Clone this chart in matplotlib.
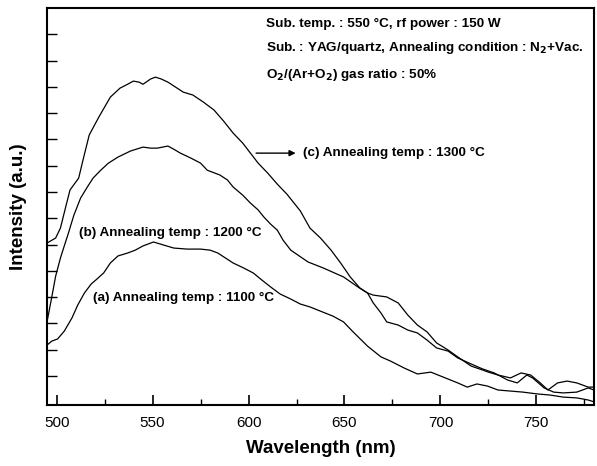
import numpy as np
import matplotlib
matplotlib.use("Agg")
import matplotlib.pyplot as plt

plt.rcParams['font.family'] = ['Liberation Sans', 'DejaVu Sans']

# (c) annealed at 1300 C
wl_c = [495, 499.5, 502, 505, 507, 511.5, 513.5, 517, 522, 528, 533, 537, 540, 543, 545,
        549, 551.5, 554.5, 558, 562, 566, 571, 576.5, 582, 587, 592, 597, 601, 605, 610,
        615, 620, 627, 632, 637.5, 643, 648, 653, 658, 662, 665, 669, 672, 678, 683, 688,
        693, 698, 704, 709, 716, 722, 728, 735, 740, 745, 748, 754, 759, 764, 771, 777, 780]
int_c = [6.06, 6.25, 6.63, 7.51, 8.08, 8.53, 9.14, 10.17, 10.85, 11.61, 11.95, 12.10, 12.22, 12.18, 12.10,
         12.30, 12.37, 12.30, 12.18, 11.99, 11.80, 11.69, 11.42, 11.12, 10.70, 10.24, 9.86, 9.48, 9.10, 8.72,
         8.30, 7.92, 7.28, 6.63, 6.25, 5.79, 5.30, 4.77, 4.35, 4.16, 3.78, 3.40, 3.06, 2.94, 2.75, 2.64,
         2.37, 2.07, 1.95, 1.69, 1.46, 1.27, 1.12, 0.85, 0.74, 1.04, 0.93, 0.55, 0.39, 0.36, 0.39, 0.55, 0.47]

# (b) annealed at 1200 C
wl_b = [495, 497.5, 499.5, 502, 504, 506, 509, 512.5, 516, 519, 523, 527, 532, 538.5, 545,
        549, 552.5, 558, 561, 564.5, 570, 575, 578.5, 585, 589, 592, 597, 601, 605, 608,
        611.5, 615, 618, 622, 631, 639, 649.5, 657, 662, 665, 672, 678, 683, 688, 693, 698,
        704, 709, 716, 722, 725, 730, 736.5, 742, 747, 752, 756, 761, 766, 771, 777, 780]
int_b = [3.06, 4.01, 4.80, 5.49, 5.95, 6.40, 7.12, 7.77, 8.19, 8.53, 8.83, 9.10, 9.33, 9.56, 9.71,
         9.67, 9.67, 9.75, 9.63, 9.48, 9.29, 9.10, 8.83, 8.65, 8.46, 8.19, 7.88, 7.58, 7.32, 7.05,
         6.78, 6.55, 6.17, 5.79, 5.34, 5.11, 4.77, 4.39, 4.16, 4.08, 4.01, 3.78, 3.32, 2.94, 2.68, 2.26,
         1.99, 1.73, 1.38, 1.23, 1.15, 1.04, 0.93, 1.12, 1.04, 0.74, 0.47, 0.74, 0.81, 0.74, 0.58, 0.58]

# (a) annealed at 1100 C
wl_a = [495, 497.5, 500.5, 504, 508, 511, 514.5, 518, 521, 524.5, 528, 532, 537, 541, 545,
        550.5, 555.5, 561, 568, 575, 580, 584, 588, 592, 597.5, 602.5, 607, 611.5, 616.5, 622,
        627, 632, 638.5, 644, 649.5, 654.5, 662, 669, 674, 681, 688, 695, 701.5, 709, 714,
        719, 724.5, 730, 736.5, 743, 750.5, 757, 764, 771, 777, 780]
int_a = [2.18, 2.33, 2.41, 2.71, 3.21, 3.70, 4.16, 4.50, 4.69, 4.92, 5.30, 5.57, 5.68, 5.79, 5.95,
         6.10, 5.99, 5.87, 5.83, 5.83, 5.79, 5.68, 5.49, 5.30, 5.11, 4.92, 4.65, 4.39, 4.12, 3.93,
         3.74, 3.63, 3.44, 3.28, 3.06, 2.68, 2.14, 1.73, 1.57, 1.31, 1.08, 1.15, 0.96, 0.74, 0.58,
         0.70, 0.62, 0.47, 0.43, 0.39, 0.32, 0.28, 0.20, 0.17, 0.09, 0.02]

fig = plt.figure(figsize=(5.97, 4.66), dpi=100)
ax = fig.add_axes([47 / 597, 1 - 405 / 466, 547 / 597, 397 / 466])

for wl, inten in [(wl_a, int_a), (wl_b, int_b), (wl_c, int_c)]:
    ax.plot(wl, inten, color='black', lw=0.9)

ax.set_xlim(495, 780)
ax.set_ylim(-0.1, 15)
ax.set_xticks([500, 550, 600, 650, 700, 750])
ax.set_xticks(np.arange(525, 780, 50), minor=True)
ax.set_yticks(np.arange(1, 15))
ax.set_yticklabels([])
ax.tick_params(axis='x', which='major', direction='in', length=7, width=1.2, labelsize=11, pad=8)
ax.tick_params(axis='x', which='minor', direction='in', length=4, width=1.0)
ax.tick_params(axis='y', direction='in', length=7, width=1.0)
for s in ax.spines.values():
    s.set_linewidth(1.5)

ax.set_xlabel('Wavelength (nm)', fontsize=13.5, fontweight='bold', labelpad=7)
ax.set_ylabel('Intensity (a.u.)', fontsize=13.5, fontweight='bold', labelpad=11)

tkw = dict(fontsize=9.7, fontweight='bold', va='center', ha='left')
ax.text(609, 14.39, 'Sub. temp. : 550 \u00b0C, rf power : 150 W', **tkw)
ax.text(609, 13.47, 'Sub. : YAG/quartz, Annealing condition : N$_\\mathbf{2}$+Vac.', **tkw)
ax.text(609, 12.45, 'O$_\\mathbf{2}$/(Ar+O$_\\mathbf{2}$) gas ratio : 50%', **tkw)

ax.annotate('', xy=(626, 9.48), xytext=(602.5, 9.48),
            arrowprops=dict(arrowstyle='-|>', color='black', lw=1.0, mutation_scale=9))
ax.text(628.5, 9.48, '(c) Annealing temp : 1300 \u00b0C', **tkw)
ax.text(511.5, 6.44, '(b) Annealing temp : 1200 \u00b0C', **tkw)
ax.text(518.8, 3.97, '(a) Annealing temp : 1100 \u00b0C', **tkw)

fig.savefig('out.png', dpi=100)
